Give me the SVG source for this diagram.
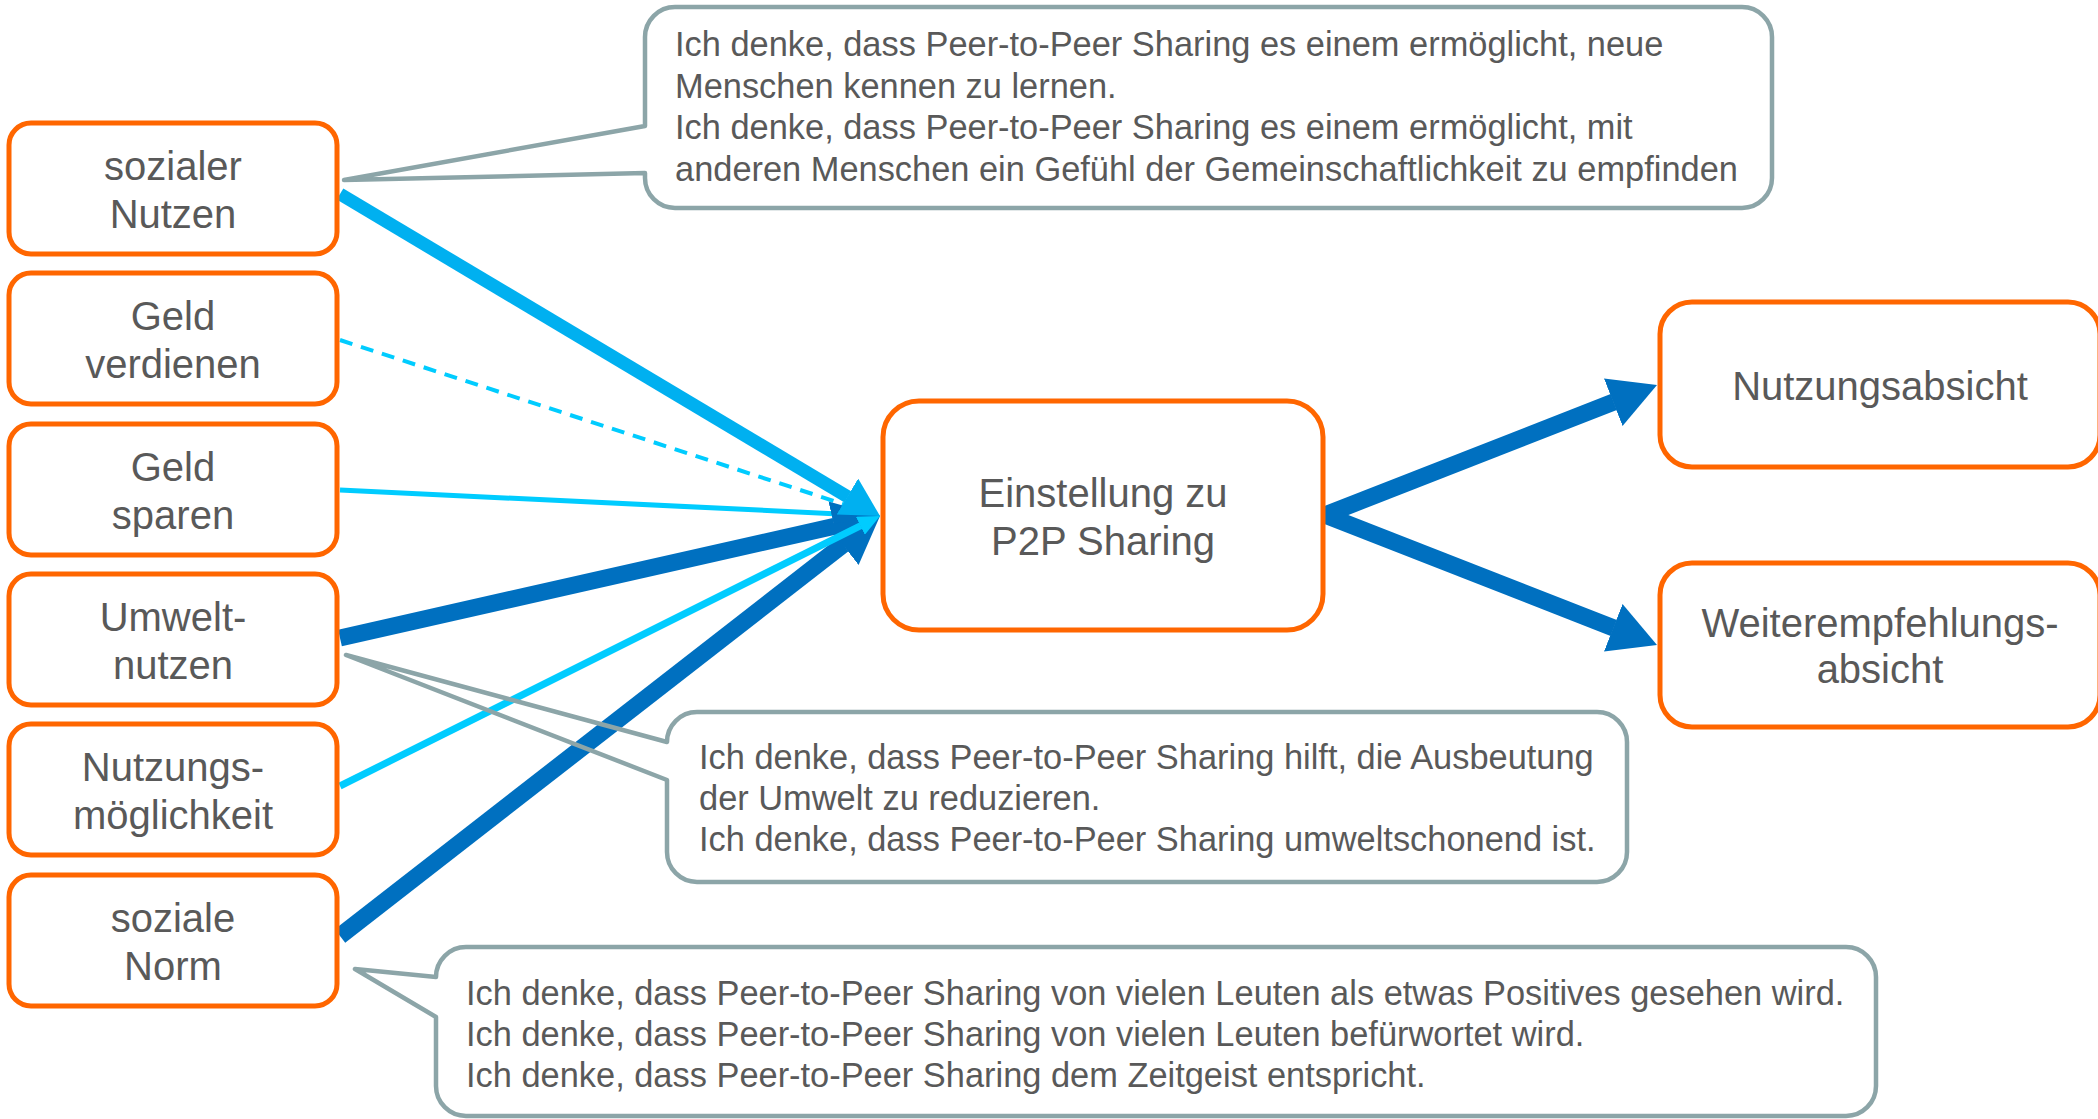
<svg xmlns="http://www.w3.org/2000/svg" width="2098" height="1119" viewBox="0 0 2098 1119">
  <style>
    .node rect { fill: #ffffff; stroke: #FF6600; stroke-width: 5; }
    .node text { font-family: "Liberation Sans", Arial, sans-serif; font-size: 40px; fill: #595959; text-anchor: middle; }
    .callout path { fill: none; stroke: #8CA5A8; stroke-width: 4.5; stroke-linejoin: round; }
    .callout text { font-family: "Liberation Sans", Arial, sans-serif; font-size: 34.4px; fill: #595959; }
    .dark { stroke: #0070C0; stroke-width: 17; fill: none; }
    .light { stroke: #00B0F0; stroke-width: 13; fill: none; }
    .cyan { stroke: #00CCFF; fill: none; }
  </style>
  <defs>
    <marker id="head-dark" markerUnits="userSpaceOnUse" viewBox="0 0 47 51" markerWidth="47" markerHeight="51" refX="0.5" refY="25.5" orient="auto">
      <path d="M0,0 L47,25.5 L0,51 Z" fill="#0070C0"/>
    </marker>
    <marker id="head-light" markerUnits="userSpaceOnUse" viewBox="0 0 38 42" markerWidth="38" markerHeight="42" refX="0.5" refY="21" orient="auto">
      <path d="M0,0 L38,21 L0,42 Z" fill="#00B0F0"/>
    </marker>
    <marker id="head-cyan-s" markerUnits="userSpaceOnUse" viewBox="0 0 16 14" markerWidth="16" markerHeight="14" refX="0.5" refY="7" orient="auto">
      <path d="M0,0 L16,7 L0,14 Z" fill="#00CCFF"/>
    </marker>
    <marker id="head-cyan-m" markerUnits="userSpaceOnUse" viewBox="0 0 22 20" markerWidth="22" markerHeight="20" refX="0.5" refY="10" orient="auto">
      <path d="M0,0 L22,10 L0,20 Z" fill="#00CCFF"/>
    </marker>
  </defs>

  <rect x="0" y="0" width="2098" height="1119" fill="#ffffff"/>

  <!-- connectors -->
  <g id="connectors">
    <line id="c-verdienen" class="cyan" x1="340" y1="340" x2="865.3" y2="511.2" stroke-width="4" stroke-dasharray="13 9" marker-end="url(#head-cyan-s)"/>
    <line id="c-sparen" class="cyan" x1="340" y1="490" x2="864.5" y2="515.2" stroke-width="5" marker-end="url(#head-cyan-s)"/>
    <line id="c-umwelt" class="dark" x1="340" y1="638" x2="834.6" y2="526.2" marker-end="url(#head-dark)"/>
    <line id="c-norm" class="dark" x1="340" y1="936" x2="843.3" y2="544.5" marker-end="url(#head-dark)"/>
    <line id="c-moeglichkeit" class="cyan" x1="340" y1="786" x2="860.8" y2="525.6" stroke-width="7" marker-end="url(#head-cyan-m)"/>
    <line id="c-sozial" class="light" x1="340" y1="194" x2="847.8" y2="496.8" marker-end="url(#head-light)"/>
    <line id="c-nutzung" class="dark" x1="1325" y1="515" x2="1613.7" y2="402" marker-end="url(#head-dark)"/>
    <line id="c-empfehlung" class="dark" x1="1325" y1="515" x2="1613.7" y2="628" marker-end="url(#head-dark)"/>
  </g>

  <!-- predictor nodes -->
  <g id="n-sozialer-nutzen" class="node">
    <rect x="9" y="123" width="328" height="131" rx="22"/>
    <text x="173" y="180">sozialer</text>
    <text x="173" y="228">Nutzen</text>
  </g>
  <g id="n-geld-verdienen" class="node">
    <rect x="9" y="273" width="328" height="131" rx="22"/>
    <text x="173" y="330">Geld</text>
    <text x="173" y="378">verdienen</text>
  </g>
  <g id="n-geld-sparen" class="node">
    <rect x="9" y="424" width="328" height="131" rx="22"/>
    <text x="173" y="481">Geld</text>
    <text x="173" y="529">sparen</text>
  </g>
  <g id="n-umweltnutzen" class="node">
    <rect x="9" y="574" width="328" height="131" rx="22"/>
    <text x="173" y="631">Umwelt-</text>
    <text x="173" y="679">nutzen</text>
  </g>
  <g id="n-nutzungsmoeglichkeit" class="node">
    <rect x="9" y="724" width="328" height="131" rx="22"/>
    <text x="173" y="781">Nutzungs-</text>
    <text x="173" y="829">möglichkeit</text>
  </g>
  <g id="n-soziale-norm" class="node">
    <rect x="9" y="875" width="328" height="131" rx="22"/>
    <text x="173" y="932">soziale</text>
    <text x="173" y="980">Norm</text>
  </g>

  <!-- attitude -->
  <g id="n-einstellung" class="node">
    <rect x="883" y="401" width="440" height="229" rx="36"/>
    <text x="1103" y="507">Einstellung zu</text>
    <text x="1103" y="555">P2P Sharing</text>
  </g>

  <!-- outcomes -->
  <g id="n-nutzungsabsicht" class="node">
    <rect x="1660" y="302" width="440" height="165" rx="32"/>
    <text x="1880" y="400">Nutzungsabsicht</text>
  </g>
  <g id="n-weiterempfehlung" class="node">
    <rect x="1660" y="563" width="440" height="164" rx="32"/>
    <text x="1880" y="637">Weiterempfehlungs-</text>
    <text x="1880" y="683">absicht</text>
  </g>

  <!-- item callouts -->
  <g id="callout-sozial" class="callout">
    <path d="M675,7 H1742 A30,30 0 0 1 1772,37 V178 A30,30 0 0 1 1742,208 H675 A30,30 0 0 1 645,178 V173 L344,180 L645,126 V37 A30,30 0 0 1 675,7 Z"/>
    <text x="675" y="56">Ich denke, dass Peer-to-Peer Sharing es einem ermöglicht, neue</text>
    <text x="675" y="97.5">Menschen kennen zu lernen.</text>
    <text x="675" y="139">Ich denke, dass Peer-to-Peer Sharing es einem ermöglicht, mit</text>
    <text x="675" y="180.5">anderen Menschen ein Gefühl der Gemeinschaftlichkeit zu empfinden</text>
  </g>
  <g id="callout-umwelt" class="callout">
    <path d="M697,712 H1597 A30,30 0 0 1 1627,742 V852 A30,30 0 0 1 1597,882 H697 A30,30 0 0 1 667,852 V780 L346,655 L667,742 A30,30 0 0 1 697,712 Z"/>
    <text x="699" y="769">Ich denke, dass Peer-to-Peer Sharing hilft, die Ausbeutung</text>
    <text x="699" y="810">der Umwelt zu reduzieren.</text>
    <text x="699" y="851">Ich denke, dass Peer-to-Peer Sharing umweltschonend ist.</text>
  </g>
  <g id="callout-norm" class="callout">
    <path d="M466,947 H1846 A30,30 0 0 1 1876,977 V1086 A30,30 0 0 1 1846,1116 H466 A30,30 0 0 1 436,1086 V1017 L355,969 L436,977 A30,30 0 0 1 466,947 Z"/>
    <text x="466" y="1005">Ich denke, dass Peer-to-Peer Sharing von vielen Leuten als etwas Positives gesehen wird.</text>
    <text x="466" y="1046">Ich denke, dass Peer-to-Peer Sharing von vielen Leuten befürwortet wird.</text>
    <text x="466" y="1087">Ich denke, dass Peer-to-Peer Sharing dem Zeitgeist entspricht.</text>
  </g>
</svg>
